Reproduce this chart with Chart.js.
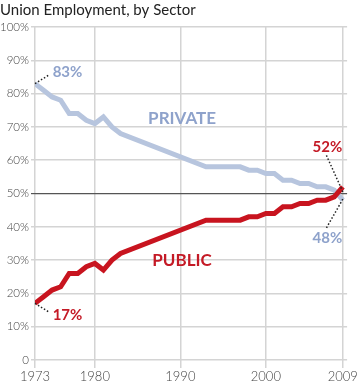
<!DOCTYPE html>
<html>
<head>
<meta charset="utf-8">
<script src="https://cdn.jsdelivr.net/npm/chart.js@4.4.1/dist/chart.umd.min.js"></script>
<style>
  html, body { margin: 0; padding: 0; background: #fff; }
  #wrap { width: 359px; height: 383px; position: relative; }
</style>
</head>
<body>
<div id="wrap"><canvas id="c" width="359" height="383"></canvas></div>
<script>
const titleText = 'Union Employment, by Sector';
const privateYears = [1973,1974,1975,1976,1977,1978,1979,1980,1981,1982,1983,1993,1994,1995,1996,1997,1998,1999,2000,2001,2002,2003,2004,2005,2006,2007,2008,2009];
const privateShare = [83,81,79,78,74,74,72,71,73,70,68,58,58,58,58,58,57,57,56,56,54,54,53,53,52,52,51,48];
const publicYears  = [1973,1974,1975,1976,1977,1978,1979,1980,1981,1982,1983,1993,1994,1995,1996,1997,1998,1999,2000,2001,2002,2003,2004,2005,2006,2007,2008,2009];
const publicShare  = [17,19,21,22,26,26,28,29,27,30,32,42,42,42,42,42,43,43,44,44,46,46,47,47,48,48,49,52];
const xTickYears = [1973,1980,1990,2000,2009];
const yTickValues = [0,10,20,30,40,50,60,70,80,90,100];

const PRIV_LINE = '#b7c5de';
const PRIV_TEXT = '#8ea2cb';
const PUB_LINE = '#c8141f';
const PUB_TEXT = '#c41a26';

const toPts = (xs, ys) => xs.map((x, i) => ({ x: x, y: ys[i] }));

const annotations = {
  id: 'annotations',
  afterDatasetsDraw(chart) {
    const { ctx, scales: { x, y } } = chart;
    const px = v => x.getPixelForValue(v);
    const py = v => y.getPixelForValue(v);
    ctx.save();
    ctx.strokeStyle = '#222';
    ctx.lineWidth = 1.5;
    ctx.setLineDash([1.5, 2]);
    const seg = (x1, y1, x2, y2) => { ctx.beginPath(); ctx.moveTo(x1, y1); ctx.lineTo(x2, y2); ctx.stroke(); };
    const iF = privateShare[0], pF = publicShare[0];
    const iL = privateShare[privateShare.length - 1], pL = publicShare[publicShare.length - 1];
    seg(px(1973), py(iF), px(1974.7), py(iF) - 9);
    seg(px(1973), py(pF), px(1974.7), py(pF) + 9);
    seg(px(2009), py(pL) + 5, px(2007.0), py(pL) - 33);
    seg(px(2009), py(iL) - 1, px(2007.0), py(iL) + 29);
    ctx.setLineDash([]);
    ctx.textAlign = 'center';
    ctx.textBaseline = 'middle';
    ctx.font = 'bold 15px Lato, "Open Sans", sans-serif';
    ctx.fillStyle = PRIV_TEXT;
    ctx.fillText(iF + '%', px(1976.8), py(iF) - 11);
    ctx.fillText(iL + '%', px(2007.2), py(iL) + 38);
    ctx.fillStyle = PUB_TEXT;
    ctx.fillText(pF + '%', px(1976.8), py(pF) + 12);
    ctx.fillText(pL + '%', px(2007.2), py(pL) - 40);
    ctx.font = 'bold 17px Lato, "Open Sans", sans-serif';
    ctx.fillStyle = PRIV_TEXT;
    ctx.fillText('PRIVATE', px(1990.2), py(72.5));
    ctx.fillStyle = PUB_TEXT;
    ctx.fillText('PUBLIC', px(1990.2), py(30));
    ctx.restore();
  }
};

new Chart(document.getElementById('c'), {
  type: 'line',
  data: {
    datasets: [
      { label: 'Private', order: 1, data: toPts(privateYears, privateShare), borderColor: PRIV_LINE, borderWidth: 5, pointRadius: 0, tension: 0, fill: false },
      { label: 'Public', order: 0, data: toPts(publicYears, publicShare), borderColor: PUB_LINE, borderWidth: 5, pointRadius: 0, tension: 0, fill: false }
    ]
  },
  options: {
    responsive: false,
    animation: false,
    devicePixelRatio: 1,
    layout: { padding: { left: 0, right: 7, top: 0, bottom: 0 } },
    plugins: {
      legend: { display: false },
      tooltip: { enabled: false },
      title: {
        display: true, text: titleText, align: 'start', color: '#222',
        font: { family: 'Lato, "Open Sans", sans-serif', size: 15, weight: 'normal', lineHeight: 1.2 },
        padding: { top: 1, bottom: 8 }
      }
    },
    scales: {
      x: {
        type: 'linear', min: 1973, max: 2009.5,
        afterBuildTicks: s => { s.ticks = xTickYears.map(v => ({ value: v })); },
        afterFit: s => { s.height = 23; },
        ticks: { color: '#444', font: { family: 'Lato, "Open Sans", sans-serif', size: 13, weight: 300 }, padding: 1, maxRotation: 0, autoSkip: false, callback: v => String(v) },
        grid: { color: '#d4d4d4', lineWidth: 1.5, tickLength: 8, drawTicks: true },
        border: { display: false }
      },
      y: {
        min: 0, max: 100,
        afterBuildTicks: s => { s.ticks = yTickValues.map(v => ({ value: v })); },
        afterFit: s => { s.width = 35; },
        ticks: { color: '#444', font: { family: 'Lato, "Open Sans", sans-serif', size: 11.5, weight: 300 }, padding: 2, callback: v => v === 0 ? '0' : v + '%' },
        grid: {
          color: c => (c.tick && c.tick.value === 50) ? '#555' : '#d4d4d4',
          lineWidth: c => (c.tick && c.tick.value === 50) ? 1.2 : 1.5,
          tickLength: 4
        },
        border: { display: false }
      }
    }
  },
  plugins: [annotations]
});
</script>
</body>
</html>
